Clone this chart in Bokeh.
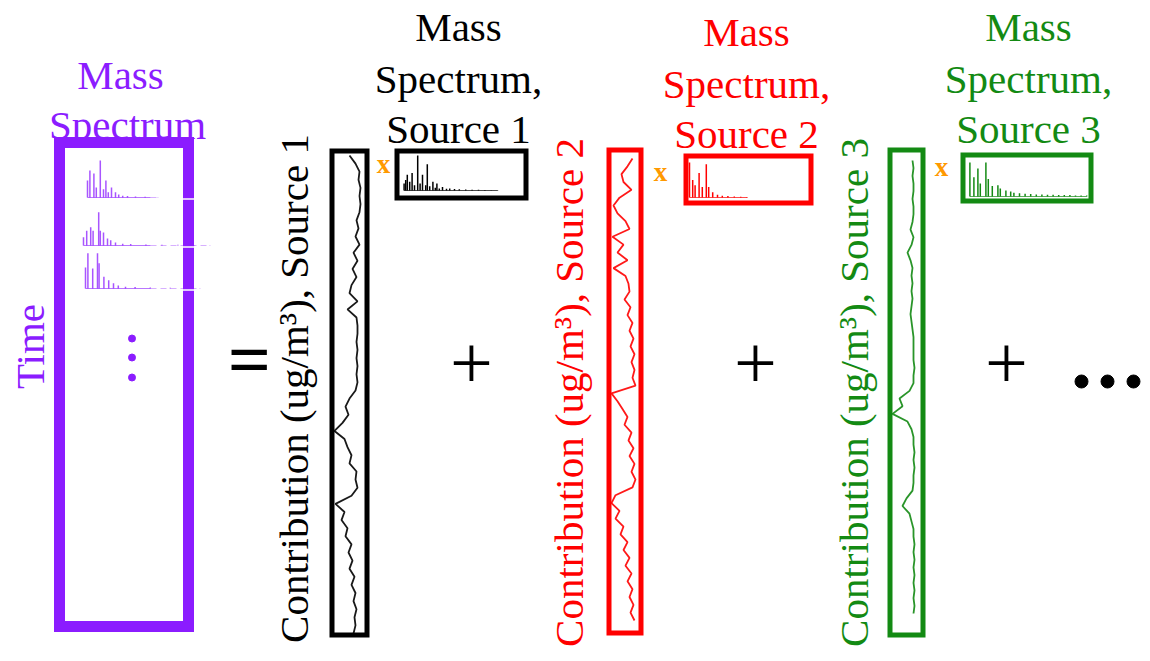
import numpy as np
from bokeh.plotting import figure
from bokeh.models import Range1d
from bokeh.core.properties import value
from bokeh.embed import file_html
from bokeh.resources import INLINE

# ---------------- data ----------------
# contributions (ug/m3) of each source over time (top -> bottom)
contrib_s1 = [1.4, 0.8, 0.4, 0.5, 0.3, 0.4, 0.3, 0.4, 0.7, 0.5, 0.8, 0.4, 1.0, 0.6, 1.1,
              0.7, 1.2, 1.4, 0.6, 1.6, 0.7, 0.6, 0.6, 0.7, 0.6, 0.7, 0.6, 0.7, 0.6, 0.8,
              1.4, 1.8, 1.5, 2.1, 2.9, 1.9, 1.6, 1.2, 1.4, 0.7, 0.8, 0.6, 1.2, 2.8, 1.9,
              2.2, 1.6, 1.8, 1.2, 1.5, 1.1, 1.4, 0.9, 1.2, 0.8, 1.0, 0.7, 0.9, 0.8, 1.0]
contrib_s2 = [0.5, 1.0, 1.6, 1.4, 0.6, 1.8, 2.4, 2.0, 1.2, 0.8, 2.5, 1.4, 2.0, 1.0, 2.4,
              1.2, 0.9, 0.8, 1.3, 0.7, 1.0, 0.5, 0.8, 0.4, 0.7, 0.3, 0.6, 0.3, 0.5, 0.2,
              2.6, 2.0, 1.5, 1.0, 1.3, 0.6, 0.9, 0.4, 0.8, 0.3, 0.6, 0.2, 0.5, 2.2, 2.6,
              1.8, 2.2, 1.4, 1.7, 1.0, 1.4, 0.8, 1.2, 0.6, 1.0, 0.5, 0.8, 0.4, 0.7, 0.3]
contrib_s3 = [0.7, 0.6, 0.7, 0.6, 0.6, 0.7, 0.6, 0.6, 0.7, 0.9, 0.6, 0.8, 1.2, 0.9, 0.7,
              0.8, 0.7, 0.8, 0.7, 0.8, 0.9, 0.8, 0.7, 0.6, 0.6, 0.6, 0.6, 0.5, 0.6, 0.6,
              1.0, 2.0, 1.7, 2.7, 1.2, 0.8, 0.6, 0.6, 0.5, 0.6, 0.5, 0.6, 0.6, 0.7, 1.3,
              1.7, 1.0, 0.8, 0.6, 0.6, 0.5, 0.6, 0.5, 0.6, 0.5, 0.6, 0.5, 0.6, 0.5, 0.6]

# factor mass spectra (m/z, relative intensity)
ms1_mz = [14, 16, 18, 21, 24, 27, 31, 34, 37, 41, 43, 46, 50, 53, 55, 58, 62, 67, 71,
          77, 83, 91, 99, 107, 115, 123, 131]
ms1_int = [0.2, 0.3, 0.45, 0.25, 0.5, 0.15, 1.0, 0.2, 0.45, 0.15, 0.75, 0.12, 0.25,
           0.08, 0.2, 0.06, 0.1, 0.05, 0.06, 0.04, 0.035, 0.03, 0.025, 0.02, 0.015, 0.01, 0.008]
ms2_mz = [12, 16, 19, 24, 28, 33, 36, 41, 47, 53, 60, 68, 76, 84]
ms2_int = [1.0, 0.5, 0.35, 0.7, 0.3, 0.95, 0.3, 0.15, 0.08, 0.05, 0.04, 0.03, 0.02, 0.015]
ms3_mz = [15, 20, 25, 28, 35, 38, 43, 50, 53, 60, 66, 70, 77, 84, 91, 98, 105, 112,
          119, 126, 133, 140, 147, 154, 161]
ms3_int = [0.97, 0.55, 0.8, 0.37, 0.97, 0.5, 0.3, 0.32, 0.23, 0.17, 0.14, 0.11, 0.09,
           0.08, 0.07, 0.06, 0.06, 0.05, 0.05, 0.04, 0.04, 0.04, 0.03, 0.03, 0.03]

# measured spectra (three time steps of the data matrix)
obs1_mz = [12, 15, 20, 23, 28, 32, 35, 38, 42, 47, 51, 56, 62, 72, 84, 100]
obs1_int = [0.46, 0.73, 0.65, 0.27, 1.0, 0.22, 0.46, 0.14, 0.27, 0.14, 0.08, 0.05,
            0.04, 0.03, 0.02, 0.01]
obs2_mz = [12, 16, 21, 24, 31, 33, 37, 42, 46, 52, 61, 71, 90, 110, 130, 150, 170]
obs2_int = [0.22, 0.4, 0.49, 0.4, 0.9, 0.4, 0.35, 0.19, 0.14, 0.08, 0.05, 0.04, 0.03,
            0.02, 0.02, 0.015, 0.01]
obs3_mz = [12, 15, 21, 27, 29, 35, 41, 47, 53, 62, 74, 93, 118, 155]
obs3_int = [0.57, 0.95, 0.54, 0.95, 0.68, 0.32, 0.22, 0.14, 0.08, 0.05, 0.04, 0.03,
            0.02, 0.01]

title_lines = ["Mass", "Spectrum,"]
contrib_label = "Contribution (ug/m\u00b3), "

# ---------------- styles ----------------
FONT = value("Liberation Serif, Times New Roman, Times, serif")
PURPLE = "#8b1cff"
BLACK = "#000000"
RED = "#ff0000"
GREEN = "#138a13"
ORANGE = "#ff9900"
MID = 14  # offset from text middle to alphabetic baseline at 41px

p = figure(width=1150, height=661, output_backend="svg", toolbar_location=None,
           x_range=Range1d(0, 1150), y_range=Range1d(661, 0),
           min_border=0, x_axis_location=None, y_axis_location=None)
p.grid.visible = False
p.outline_line_color = None
p.background_fill_color = "white"
p.border_fill_color = "white"


def txt(x, y, s, color, size="41px", angle=0.0, style="normal"):
    p.text(x=[x], y=[y], text=[s], text_color=color, text_font=FONT,
           text_font_size=size, text_align="center", text_baseline="middle", angle=angle,
           text_font_style=style)


# ---- data matrix (purple) ----
txt(120, 88 - MID, "Mass", PURPLE)
txt(127, 138 - MID, "Spectrum", PURPLE)
txt(29, 346, "Time", PURPLE, angle=np.pi / 2)


def spectrum(mz, inten, x0, base, hmax, color, alpha=1.0, lw=1.5, ppm=0.8):
    xs = [x0 + (m - 12) * ppm for m in mz]
    ys = [base - v * hmax for v in inten]
    p.segment(x0=xs, y0=[base] * len(xs), x1=xs, y1=ys, line_color=color,
              line_width=lw, line_alpha=alpha)
    return xs


for mz, it, x0, base in [(obs1_mz, obs1_int, 87, 197), (obs2_mz, obs2_int, 83, 245),
                         (obs3_mz, obs3_int, 85, 288)]:
    xs = spectrum(mz, it, x0, base, 37, PURPLE, alpha=0.75, lw=1.5)
    p.line([xs[0], min(xs[-1], 150)], [base, base], line_color=PURPLE, line_alpha=0.6,
           line_width=1.2)
    if xs[-1] > 150:
        p.line([150, xs[-1]], [base, base], line_color=PURPLE, line_alpha=0.35,
               line_width=1.2, line_dash="6 4")

p.quad(left=[59], right=[188], top=[142], bottom=[626], fill_color=None,
       line_color=PURPLE, line_width=11, line_join="miter")
for yb in [197, 245, 288]:
    p.line([182, 195], [yb + 1.5, yb + 1.5], line_color="white", line_width=1.5)
p.scatter(x=[131.5, 131.5, 131.5], y=[338, 357, 377], size=7, color=PURPLE)

# ---- operators ----
txt(249, 358, "=", BLACK, size="76px", style="bold")
for xo in [471, 755, 1006]:
    txt(xo, 362, "+", BLACK, size="76px")
for xd in [1081, 1107, 1133]:
    p.scatter(x=[xd], y=[381], size=13, color=BLACK)

# ---- sources ----
sources = [
    dict(color=BLACK, name="Source 1", contrib=contrib_s1, col=(331.5, 366.5, 150.5, 634.5),
         ts=(155, 633), box=(396.5, 525.5, 150.5, 197.5), ms=(ms1_mz, ms1_int),
         ms_x0=402, ms_base=190, tx=458, tb=(40, 92, 142), lx=293, ly=388, xx=(383, 163)),
    dict(color=RED, name="Source 2", contrib=contrib_s2, col=(608.5, 640.5, 149.5, 632.5),
         ts=(158, 620), box=(685.5, 810.5, 155.5, 202.5), ms=(ms2_mz, ms2_int),
         ms_x0=689, ms_base=197, tx=746, tb=(45, 97, 147), lx=568, ly=392, xx=(660, 171)),
    dict(color=GREEN, name="Source 3", contrib=contrib_s3, col=(889.5, 922.5, 149.5, 634.5),
         ts=(160, 613), box=(962.5, 1090.5, 154.5, 200.5), ms=(ms3_mz, ms3_int),
         ms_x0=967, ms_base=196, tx=1028, tb=(40, 92, 142), lx=853, ly=392, xx=(941, 166)),
]

for s in sources:
    c = s["color"]
    # titles
    txt(s["tx"], s["tb"][0] - MID, title_lines[0], c)
    txt(s["tx"], s["tb"][1] - MID, title_lines[1], c)
    txt(s["tx"], s["tb"][2] - MID, s["name"], c)
    # contribution label
    txt(s["lx"], s["ly"], contrib_label + s["name"], c, angle=np.pi / 2)
    # time-series column
    l, r, t, b = s["col"]
    p.quad(left=[l], right=[r], top=[t], bottom=[b], fill_color=None, line_color=c,
           line_width=5, line_join="miter")
    n = len(s["contrib"])
    ys = np.linspace(s["ts"][0], s["ts"][1], n)
    xs = [r - 3.5 - v * 10 for v in s["contrib"]]
    p.line(xs, list(ys), line_color=c, line_width=1.8, line_alpha=0.9)
    # multiplication sign
    txt(s["xx"][0], s["xx"][1], "x", ORANGE, size="27px", style="bold")
    # spectrum box
    l, r, t, b = s["box"]
    p.quad(left=[l], right=[r], top=[t], bottom=[b], fill_color=None, line_color=c,
           line_width=5, line_join="miter")
    mz, it = s["ms"]
    xs = spectrum(mz, it, s["ms_x0"], s["ms_base"], 35, c, lw=1.5)
    p.line([xs[0], xs[-1]], [s["ms_base"], s["ms_base"]], line_color=c, line_width=1.2,
           line_alpha=0.7)

open("out.html", "w").write(file_html(p, INLINE))
